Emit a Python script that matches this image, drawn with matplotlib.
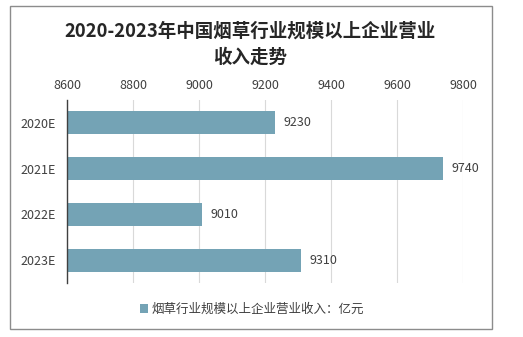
import matplotlib
matplotlib.use("Agg")
import matplotlib.pyplot as plt
from matplotlib.patches import Rectangle

plt.rcParams['font.family'] = ['Noto Sans CJK SC', 'DejaVu Sans']

categories = ["2020E", "2021E", "2022E", "2023E"]
values = [9230, 9740, 9010, 9310]
xticks = [8600, 8800, 9000, 9200, 9400, 9600, 9800]
title = "2020-2023年中国烟草行业规模以上企业营业\n收入走势"
legend_label = "烟草行业规模以上企业营业收入：亿元"

bar_color = "#74A3B5"
text_color = "#404040"

fig = plt.figure(figsize=(5.23, 3.37), dpi=100)
fig.patch.set_facecolor("white")
ax = fig.add_axes([67/523, 1-283/337, (463-67)/523, (283-100)/337])

y = list(range(len(categories)))
bars = ax.barh(y, values, height=0.5, color=bar_color, label=legend_label, zorder=3)
ax.set_xlim(8600, 9800)
ax.set_ylim(len(categories)-0.5, -0.5)
ax.set_yticks(y)
ax.set_yticklabels(categories, fontsize=9, color=text_color)
ax.set_xticks(xticks)
ax.set_xticklabels([str(v) for v in xticks], fontsize=9, color=text_color)
ax.xaxis.tick_top()
ax.tick_params(axis='x', length=0, pad=6)
ax.tick_params(axis='y', length=0, pad=8)
ax.grid(axis='x', color="#d9d9d9", linewidth=0.8, zorder=0)
for s in ["top", "right", "bottom"]:
    ax.spines[s].set_visible(False)
ax.spines["left"].set_color("#404040")
ax.spines["left"].set_linewidth(1.0)
ax.spines["left"].set_zorder(4)

for yi, v in zip(y, values):
    ax.text(v + 25, yi, str(v), va='center', ha='left', fontsize=9, color=text_color)

fig.text(250/523, 1-44/337, title, ha='center', va='center', fontsize=13.3,
         fontweight='bold', color="#262626", linespacing=1.45)

leg = fig.legend(handles=[bars], labels=[legend_label], loc='center',
                 bbox_to_anchor=(252/523, 1-309/337), frameon=False, fontsize=9,
                 handlelength=0.7, handleheight=0.7, handletextpad=0.3)
for t in leg.get_texts():
    t.set_color(text_color)

fig.patches.append(Rectangle((10/523, 8/337), (492-10)/523, (331-8)/337,
                             transform=fig.transFigure, fill=False,
                             edgecolor="#8c8c8c", linewidth=1.0))

fig.savefig("out.png", dpi=100)
